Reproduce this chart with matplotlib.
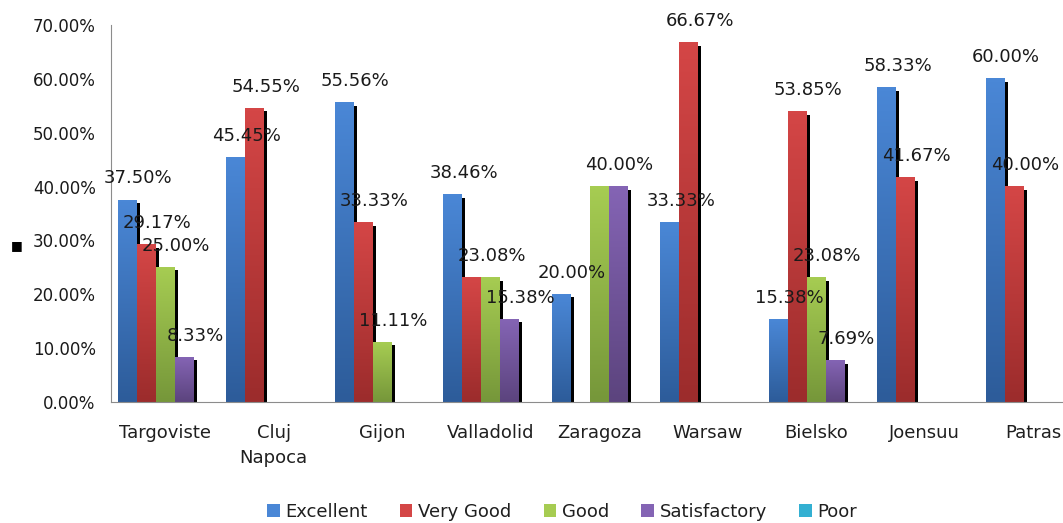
import numpy as np
import matplotlib
matplotlib.use("Agg")
import matplotlib.pyplot as plt
from matplotlib.patches import Patch, Rectangle
from matplotlib.colors import LinearSegmentedColormap

cities = ["Targoviste", "Cluj\nNapoca", "Gijon", "Valladolid", "Zaragoza",
          "Warsaw", "Bielsko", "Joensuu", "Patras"]
series = ["Excellent", "Very Good", "Good", "Satisfactory", "Poor"]

excellent = [37.50, 45.45, 55.56, 38.46, 20.00, 33.33, 15.38, 58.33, 60.00]
very_good = [29.17, 54.55, 33.33, 23.08, 0.00, 66.67, 53.85, 41.67, 40.00]
good = [25.00, 0.00, 11.11, 23.08, 40.00, 0.00, 23.08, 0.00, 0.00]
satisfactory = [8.33, 0.00, 0.00, 15.38, 40.00, 0.00, 7.69, 0.00, 0.00]
poor = [0.00, 0.00, 0.00, 0.00, 0.00, 0.00, 0.00, 0.00, 0.00]

values = [excellent, very_good, good, satisfactory, poor]

# (top colour, bottom colour) for the gradient fills
colors = [("#4a87d6", "#2d5c9a"), ("#d44646", "#9c2c2c"), ("#a6cc52", "#76973a"),
          ("#8464b4", "#5c447e"), ("#33b0d2", "#22809e")]

fig = plt.figure(figsize=(10.63, 5.23), dpi=100)
ax = fig.add_axes([111 / 1063, 121 / 523, 9 * 108.5 / 1063, 377 / 523])

bw = 0.175
start = (1 - 5 * bw) / 2
shadow_dx = 0.028
shadow_dy = 0.56
grad = np.linspace(1, 0, 64).reshape(-1, 1)

for k, vals in enumerate(values):
    cmap = LinearSegmentedColormap.from_list("g%d" % k, [colors[k][1], colors[k][0]])
    for i, v in enumerate(vals):
        if v <= 0:
            continue
        x0 = i + start + k * bw
        # drop shadow on the right
        ax.add_patch(Rectangle((x0 + shadow_dx, 0), bw, v - shadow_dy,
                               facecolor="black", edgecolor="none", zorder=1))
        ax.imshow(grad, cmap=cmap, extent=[x0, x0 + bw, 0, v], aspect="auto",
                  vmin=0, vmax=1, zorder=2 + k * 0.01, interpolation="bilinear")

# data labels; equal neighbours share one label (they overlap in the original)
for i in range(len(cities)):
    k = 0
    while k < len(values):
        v = values[k][i]
        if v <= 0:
            k += 1
            continue
        n = 1
        while k + n < len(values) and values[k + n][i] == v:
            n += 1
        xc = i + start + k * bw + n * bw / 2 + 0.1
        ax.text(xc, v + 4.0, "%.2f%%" % v, ha="center", va="center",
                fontsize=13, color="#1a1a1a", zorder=5)
        k += n

ax.set_xlim(0, 9)
ax.set_ylim(0, 70)
ax.set_yticks(np.arange(0, 71, 10))
ax.set_yticklabels(["%.2f%%" % t for t in np.arange(0, 71, 10)])
ax.set_xticks(np.arange(9) + 0.5)
ax.set_xticklabels(cities, linespacing=1.45)
ax.tick_params(axis="y", length=0, pad=11, labelsize=12, labelcolor="#1a1a1a")
ax.tick_params(axis="x", length=0, pad=16, labelsize=13, labelcolor="#1f1f1f")

for side in ["top", "right"]:
    ax.spines[side].set_visible(False)
ax.spines["left"].set_color("#8c8c8c")
ax.spines["bottom"].set_color("#8c8c8c")

fig.text(17 / 1063, 1 - 246 / 523, "\u25a0", fontsize=9, ha="center", va="center")

handles = [Patch(facecolor=c[0], edgecolor="none") for c in colors]
fig.legend(handles, series, loc="center", bbox_to_anchor=(562 / 1063, 1 - 512 / 523),
           ncol=5, frameon=False, fontsize=13, handlelength=0.7, handleheight=0.7,
           handletextpad=0.3, columnspacing=1.8, labelcolor="#1f1f1f")

fig.savefig("out.png", dpi=100)
